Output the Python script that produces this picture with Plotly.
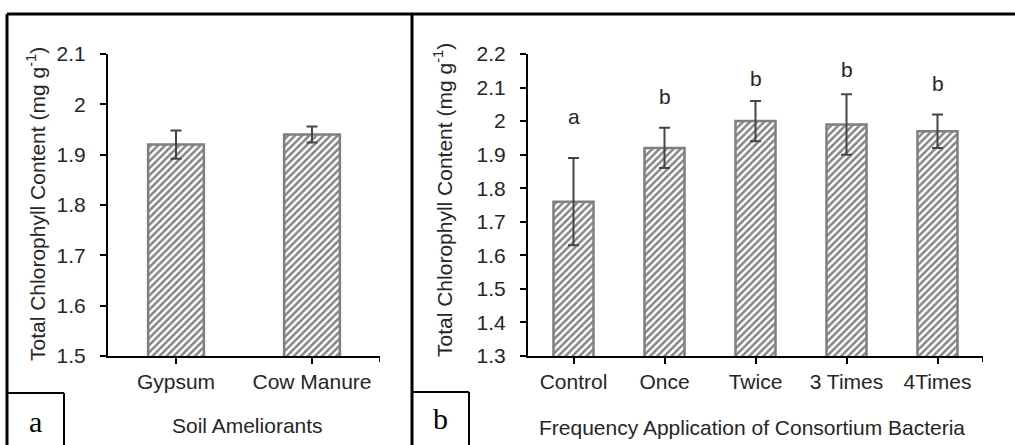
import plotly.graph_objects as go

# ---- data ----
amel_cats = ["Gypsum", "Cow Manure"]
amel_vals = [1.92, 1.94]
amel_err = [0.028, 0.016]

freq_cats = ["Control", "Once", "Twice", "3 Times", "4Times"]
freq_vals = [1.76, 1.92, 2.00, 1.99, 1.97]
freq_err = [0.13, 0.06, 0.06, 0.09, 0.05]
freq_letters = ["a", "b", "b", "b", "b"]
freq_letter_y = [1.985, 2.045, 2.10, 2.125, 2.085]

y_title = "Total Chlorophyll Content (mg g<sup>-1</sup>)"
x_title_a = "Soil Ameliorants"
x_title_b = "Frequency Application of Consortium Bacteria"

W, H = 1015, 445
SANS = "Liberation Sans, Arial, sans-serif"
SERIF = "Liberation Serif, Times New Roman, serif"
TXT = "#262626"
FS = 21


def px(x):
    return x / W


def py(y):
    return 1 - y / H


bar_marker = dict(
    color="white",
    line=dict(color="#7f7f7f", width=2.5),
    pattern=dict(shape="/", fgcolor="#858585", bgcolor="white", size=5, solidity=0.5),
)
err_style = dict(type="data", color="#454545", thickness=2, width=5.5)

fig = go.Figure()
fig.add_trace(go.Bar(
    x=amel_cats, y=amel_vals, width=0.41,
    error_y=dict(array=amel_err, **err_style),
    marker=bar_marker, xaxis="x", yaxis="y", showlegend=False,
))
fig.add_trace(go.Bar(
    x=freq_cats, y=freq_vals, width=0.44,
    error_y=dict(array=freq_err, **err_style),
    marker=bar_marker, xaxis="x2", yaxis="y2", showlegend=False,
))

common_x = dict(
    showline=True, linecolor="black", linewidth=2,
    ticks="outside", ticklen=6, tickwidth=2, tickcolor="black",
    tickfont=dict(family=SANS, size=FS, color=TXT),
    showgrid=False, zeroline=False, fixedrange=True, automargin=False,
)
common_y = dict(
    showline=True, linecolor="black", linewidth=2,
    ticks="outside", ticklen=6, tickwidth=2, tickcolor="black",
    tickfont=dict(family=SANS, size=FS, color=TXT),
    showgrid=False, zeroline=False, dtick=0.1, ticklabelstandoff=10,
    automargin=False, fixedrange=True,
)

ybot, ytop = py(356), py(54)
fig.update_layout(
    template="none",
    width=W, height=H,
    margin=dict(l=0, r=0, t=0, b=0, pad=0, autoexpand=False),
    paper_bgcolor="white", plot_bgcolor="white",
    showlegend=False,
    xaxis=dict(domain=[px(108), px(380)], anchor="y", range=[-0.5, len(amel_cats) - 0.5], **common_x),
    yaxis=dict(domain=[ybot, ytop], anchor="x", range=[1.5, 2.1], tick0=1.5, **common_y),
    xaxis2=dict(domain=[px(528), px(983)], anchor="y2", range=[-0.5, len(freq_cats) - 0.5], **common_x),
    yaxis2=dict(domain=[ybot, ytop], anchor="x2", range=[1.3, 2.2], tick0=1.3, **common_y),
)

shapes = []
# end ticks at right of each x axis
for xr, n in (("x", len(amel_cats)), ("x2", len(freq_cats))):
    shapes.append(dict(type="line", xref=xr, yref="paper", x0=n - 0.5, x1=n - 0.5,
                       y0=ybot, y1=ybot - 6 / H, line=dict(color="black", width=2)))
# frames
frame = dict(color="black", width=3)
shapes += [
    dict(type="line", xref="paper", yref="paper", x0=px(7), x1=1, y0=py(14), y1=py(14), line=frame),
    dict(type="line", xref="paper", yref="paper", x0=px(7), x1=px(7), y0=py(14), y1=0, line=frame),
    dict(type="line", xref="paper", yref="paper", x0=px(412), x1=px(412), y0=py(14), y1=0, line=frame),
    dict(type="line", xref="paper", yref="paper", x0=px(7), x1=px(64), y0=py(393), y1=py(393), line=dict(color="black", width=2)),
    dict(type="line", xref="paper", yref="paper", x0=px(64), x1=px(64), y0=py(393), y1=0, line=dict(color="black", width=2)),
    dict(type="line", xref="paper", yref="paper", x0=px(412), x1=px(469), y0=py(392), y1=py(392), line=dict(color="black", width=2)),
    dict(type="line", xref="paper", yref="paper", x0=px(469), x1=px(469), y0=py(392), y1=0, line=dict(color="black", width=2)),
]
fig.update_layout(shapes=shapes)

ann = []
# axis titles
ann.append(dict(text=y_title, xref="paper", yref="paper", x=px(36), y=py(204), textangle=-90,
                showarrow=False, font=dict(family=SANS, size=FS, color=TXT), xanchor="center", yanchor="middle"))
ann.append(dict(text=y_title, xref="paper", yref="paper", x=px(443), y=py(200), textangle=-90,
                showarrow=False, font=dict(family=SANS, size=FS, color=TXT), xanchor="center", yanchor="middle"))
ann.append(dict(text=x_title_a, xref="paper", yref="paper", x=px(247), y=py(425),
                showarrow=False, font=dict(family=SANS, size=FS, color=TXT), xanchor="center", yanchor="middle"))
ann.append(dict(text=x_title_b, xref="paper", yref="paper", x=px(752), y=py(427),
                showarrow=False, font=dict(family=SANS, size=FS, color=TXT), xanchor="center", yanchor="middle"))
# panel letters
ann.append(dict(text="a", xref="paper", yref="paper", x=px(35), y=py(421),
                showarrow=False, font=dict(family=SERIF, size=30, color="black"), xanchor="center", yanchor="middle"))
ann.append(dict(text="b", xref="paper", yref="paper", x=px(440), y=py(418),
                showarrow=False, font=dict(family=SERIF, size=30, color="black"), xanchor="center", yanchor="middle"))
# significance letters
for c, l, yv in zip(freq_cats, freq_letters, freq_letter_y):
    ann.append(dict(text=l, xref="x2", yref="y2", x=c, y=yv, showarrow=False, yshift=-4,
                    font=dict(family=SANS, size=FS, color=TXT), xanchor="center", yanchor="bottom"))
fig.update_layout(annotations=ann)

fig.write_html(
    "out.html",
    config={"displayModeBar": False, "staticPlot": True},
    post_script="document.body.style.margin='0px';document.body.style.padding='0px';"
                "document.documentElement.style.overflow='hidden';",
)
